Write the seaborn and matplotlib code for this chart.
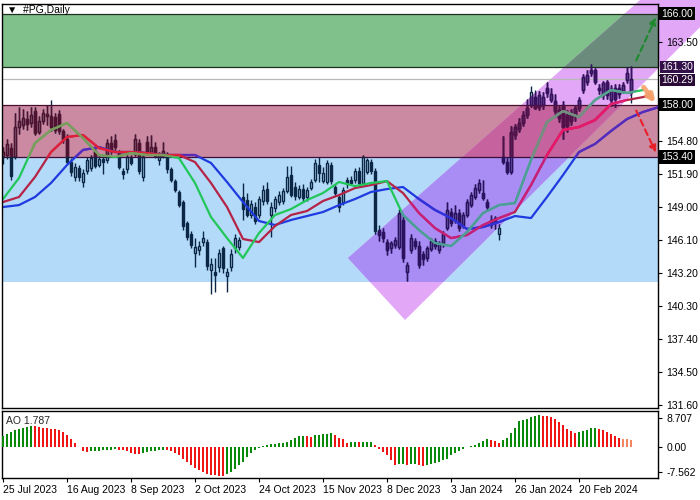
import numpy as np
import matplotlib
matplotlib.use("Agg")
import matplotlib.pyplot as plt
import seaborn as sns
from matplotlib.patches import Rectangle, Polygon
from matplotlib.collections import LineCollection
from matplotlib.transforms import Bbox, TransformedBbox

# ---------------- data ----------------
opens = [153.4, 153.6, 154.2, 153.4, 156.0, 156.2, 156.7, 156.4, 157.4, 155.6,
         156.6, 157.2, 157.0, 156.9, 157.2, 155.7, 155.0, 153.0, 151.6, 152.4,
         151.2, 152.2, 152.4, 153.9, 152.7, 153.2, 153.1, 154.6, 154.9, 153.8,
         152.2, 152.3, 153.3, 153.7, 154.6, 151.6, 154.7, 153.8, 154.3, 153.1,
         153.5, 153.6, 152.3, 151.3, 150.3, 149.4, 147.6, 146.6, 145.0, 145.2,
         145.9, 145.9, 143.5, 143.3, 143.7, 145.4, 142.9, 143.7, 145.4, 145.5,
         149.9, 149.6, 148.3, 149.0, 148.3, 149.5, 150.6, 148.3, 148.9, 149.4,
         149.5, 150.4, 151.8, 150.8, 149.9, 150.6, 149.9, 150.7, 151.4, 152.7,
         151.3, 151.2, 152.7, 150.8, 149.9, 149.4, 151.4, 151.4, 151.4, 152.2,
         151.1, 152.1, 153.0, 152.2, 147.0, 146.8, 145.9, 145.4, 145.7, 145.5,
         147.9, 143.3, 145.2, 146.0, 145.6, 144.9, 144.5, 145.3, 146.0, 145.2,
         145.8, 147.2, 148.6, 147.9, 148.5, 147.4, 148.3, 149.2, 149.9, 150.5,
         150.2, 149.4, 147.9, 148.0, 146.6, 153.4, 153.0, 152.1, 155.3, 155.9,
         156.4, 157.1, 158.0, 158.7, 157.8, 158.0, 159.5, 158.4, 158.3, 157.5,
         158.0, 157.1, 156.6, 157.0, 157.7, 159.3, 160.0, 160.8, 161.0, 159.5,
         158.8, 160.0, 158.4, 159.5, 158.9, 159.2, 160.2, 159.1]
highs = [154.3, 155.0, 154.6, 157.3, 157.8, 157.6, 157.4, 157.8, 157.8, 157.0,
         157.6, 158.0, 158.4, 157.3, 157.5, 155.9, 155.4, 153.3, 152.9, 152.7,
         152.3, 153.4, 153.6, 154.3, 153.5, 153.5, 155.0, 155.2, 155.4, 154.0,
         152.4, 153.6, 153.6, 155.4, 155.0, 153.7, 155.2, 155.3, 154.7, 153.8,
         154.7, 153.8, 152.5, 151.5, 150.5, 149.6, 147.8, 146.9, 146.3, 146.0,
         146.9, 146.2, 144.5, 144.5, 145.3, 145.6, 143.6, 145.3, 146.6, 146.4,
         151.1, 150.2, 149.6, 149.4, 150.0, 150.9, 151.2, 149.4, 150.0, 150.4,
         150.7, 152.6, 152.6, 151.2, 150.9, 151.0, 150.8, 151.5, 153.2, 153.4,
         152.5, 153.1, 153.0, 151.0, 150.1, 150.8, 151.6, 151.7, 152.4, 152.5,
         153.6, 153.3, 153.2, 152.4, 147.4, 147.2, 146.2, 146.0, 146.4, 148.8,
         148.2, 144.2, 146.6, 146.3, 146.0, 145.1, 145.6, 146.3, 146.3, 146.0,
         146.9, 149.4, 148.9, 149.2, 148.8, 148.6, 149.7, 150.3, 151.0, 151.5,
         151.4, 149.7, 148.3, 148.2, 147.5, 155.2, 153.4, 156.1, 156.3, 156.8,
         157.4, 158.5, 159.6, 159.3, 159.2, 159.1, 160.0, 159.5, 158.9, 157.9,
         158.3, 157.5, 157.6, 158.0, 158.7, 160.7, 161.0, 161.6, 161.2, 159.8,
         160.1, 160.2, 159.7, 159.8, 159.8, 160.0, 161.3, 161.4]
lows = [152.8, 153.2, 151.4, 153.2, 155.4, 155.9, 155.8, 156.0, 155.3, 155.4,
        156.3, 156.2, 155.7, 155.5, 155.4, 154.6, 152.8, 151.7, 151.3, 151.3,
        150.8, 151.9, 152.2, 152.4, 152.5, 151.9, 152.9, 153.7, 154.0, 152.3,
        151.5, 152.0, 152.7, 153.5, 151.9, 151.3, 153.6, 153.6, 153.3, 152.7,
        153.3, 152.0, 151.2, 150.3, 149.0, 147.0, 146.1, 145.4, 143.7, 144.8,
        145.6, 143.5, 141.4, 141.5, 143.3, 143.2, 141.5, 143.4, 145.0, 145.2,
        147.9, 148.1, 148.0, 147.5, 148.0, 149.2, 149.3, 146.4, 148.6, 149.2,
        149.3, 150.2, 149.9, 149.6, 149.7, 149.4, 149.5, 150.5, 151.2, 151.2,
        151.1, 151.0, 151.0, 150.0, 148.6, 149.2, 150.7, 150.9, 151.1, 150.9,
        150.9, 151.9, 151.9, 146.6, 146.0, 145.9, 144.8, 145.0, 145.4, 145.3,
        144.2, 142.5, 145.0, 145.3, 143.6, 143.9, 144.3, 145.1, 145.3, 145.0,
        145.5, 147.0, 147.3, 147.6, 146.9, 147.2, 148.1, 149.0, 149.7, 150.2,
        149.6, 148.7, 147.2, 147.1, 146.1, 152.8, 151.9, 151.9, 155.0, 155.6,
        156.1, 156.8, 157.8, 157.6, 157.5, 157.6, 158.7, 158.2, 157.2, 156.5,
        155.0, 155.6, 156.2, 156.6, 157.4, 159.0, 159.7, 160.5, 159.8, 158.9,
        158.5, 158.5, 157.9, 157.8, 158.6, 159.0, 159.9, 158.1]
closes = [153.8, 154.5, 151.7, 156.0, 156.6, 156.8, 156.3, 157.1, 155.5, 156.6,
          157.3, 157.0, 156.0, 155.8, 155.7, 155.0, 153.0, 152.1, 152.5, 151.6,
          152.0, 153.1, 153.3, 152.6, 153.2, 153.0, 154.6, 154.0, 154.3, 152.5,
          151.9, 153.4, 152.9, 155.0, 152.2, 153.4, 153.8, 154.3, 153.5, 153.6,
          153.9, 152.3, 151.4, 150.5, 149.2, 147.3, 146.4, 145.7, 145.5, 145.6,
          146.3, 143.8, 144.0, 143.0, 145.0, 143.6, 143.3, 144.9, 146.3, 146.1,
          148.8, 148.3, 149.3, 147.8, 149.7, 150.5, 149.5, 149.0, 149.7, 150.1,
          150.4, 151.6, 150.1, 150.0, 150.6, 149.8, 150.5, 151.2, 152.9, 152.0,
          152.0, 152.9, 151.3, 150.2, 149.0, 150.5, 151.0, 151.1, 152.2, 151.1,
          153.4, 153.1, 152.2, 146.9, 146.5, 146.3, 145.2, 145.8, 146.1, 148.5,
          144.5, 143.9, 146.3, 145.6, 143.9, 144.4, 145.4, 146.0, 145.6, 145.8,
          146.6, 148.7, 147.6, 148.5, 147.2, 148.3, 149.4, 150.1, 150.7, 151.1,
          149.8, 149.0, 147.4, 147.6, 147.2, 153.0, 152.1, 155.6, 156.0, 156.4,
          157.1, 157.7, 159.1, 157.7, 158.8, 158.7, 159.0, 158.9, 157.4, 156.8,
          156.0, 156.1, 157.3, 157.7, 158.4, 160.4, 160.6, 161.0, 160.0, 159.3,
          159.9, 158.8, 159.4, 158.5, 159.5, 159.7, 160.8, 160.29]

ao_values = [3.2, 4.0, 4.5, 5.0, 5.3, 5.7, 6.0, 6.4, 6.2, 6.0,
             5.7, 5.6, 5.5, 5.3, 5.0, 4.5, 3.5, 2.5, 1.2, 0.05,
             -1.2, -1.5, -1.3, -1.2, -1.1, -1.0, -0.9, -0.8, -0.6, -0.8,
             -1.0, -1.3, -1.8, -2.0, -2.05, -1.7, -1.5, -1.3, -1.2, -1.0,
             -0.8, -1.0, -1.2, -1.7, -2.5, -3.5, -4.5, -5.5, -6.3, -7.0,
             -7.5, -8.0, -8.3, -8.5, -8.6, -8.65, -8.2, -7.5, -6.5, -5.5,
             -4.5, -3.0, -1.8, -1.0, -0.3, 0.2, 0.7, 0.9, 1.0, 1.1,
             1.3, 1.5, 2.0, 2.7, 3.2, 3.3, 3.2, 3.1, 3.6, 3.7,
             3.8, 4.0, 4.3, 3.5, 2.8, 2.5, 1.3, 1.4, 1.5, 1.4,
             1.5, 1.6, 1.65, 0.6, -0.5, -1.5, -2.5, -4.0, -5.5, -5.2,
             -5.0, -5.3, -5.1, -5.0, -5.3, -5.6, -5.3, -5.0, -4.8, -4.5,
             -4.0, -3.5, -2.5, -1.8, -1.2, -0.5, 0.0, 0.3, 0.7, 1.2,
             1.8, 2.3, 2.2, 1.8, 1.2, 2.2, 2.8, 4.2, 5.8, 7.8,
             8.0, 8.5, 9.0, 9.4, 9.5, 9.45, 9.4, 9.0, 8.3, 7.5,
             6.5, 5.5, 4.8, 4.3, 4.4, 4.7, 5.2, 5.6, 5.8, 5.5,
             5.0, 4.5, 3.8, 3.2, 2.8, 2.5, 2.3, 2.0]

# Alligator lines (lips / teeth / jaw), read at every 4th bar
lips_idx = list(range(0, 161, 4))
lips_vals = [149.70, 151.55, 154.62, 155.77, 156.38, 155.06, 153.57, 153.39, 153.74, 153.57,
             153.57, 153.30, 151.11, 148.12, 146.27, 144.52, 146.71, 148.30, 148.82, 149.61,
             150.23, 151.20, 150.84, 151.11, 151.28, 148.30, 146.98, 145.84, 145.57, 146.80,
             148.47, 149.17, 149.35, 153.13, 156.47, 157.43, 156.91, 158.40, 159.28, 159.02,
             159.28]
teeth_idx = list(range(0, 161, 4)) + [162]
teeth_vals = [149.44, 149.88, 151.64, 153.83, 155.15, 155.33, 154.18, 153.83, 153.83, 153.74,
              153.57, 153.57, 152.95, 151.11, 149.00, 146.19, 145.92, 147.33, 148.30, 148.65,
              149.53, 150.05, 150.67, 150.93, 151.28, 150.23, 148.47, 147.15, 146.27, 146.54,
              147.42, 148.03, 148.56, 150.93, 153.57, 155.77, 156.03, 156.64, 158.05, 158.40,
              158.66, 158.84]
jaw_idx = list(range(0, 165, 4))
jaw_vals = [149.00, 149.17, 149.88, 151.11, 152.69, 154.01, 154.27, 153.83, 153.83, 153.74,
            153.57, 153.57, 153.57, 152.87, 151.20, 149.44, 147.77, 147.42, 147.86, 148.21,
            148.56, 149.17, 149.70, 150.32, 150.58, 150.76, 149.70, 148.74, 148.03, 147.07,
            147.24, 147.68, 148.21, 148.03, 149.88, 151.81, 153.83, 154.54, 155.68, 156.73,
            157.35, 157.79]

date_positions = [0, 16, 32, 48, 64, 80, 96, 112, 128, 144]
date_labels = ["25 Jul 2023", "16 Aug 2023", "8 Sep 2023", "2 Oct 2023", "24 Oct 2023",
               "15 Nov 2023", "8 Dec 2023", "3 Jan 2024", "26 Jan 2024", "20 Feb 2024"]

price_ticks = [131.60, 134.50, 137.40, 140.30, 143.20, 146.10, 149.00, 151.90,
               154.80, 157.70, 160.60, 163.50, 166.40]
hidden_ticks = [157.70, 160.60, 166.40]   # covered by the level boxes in the reference
ao_ticks = [8.707, 0.0, -7.562]
ao_tick_labels = ["8.707", "0.00", "-7.562"]

green_zone = (161.30, 166.00)
red_zone = (153.40, 158.00)
blue_zone = (142.40, 153.40)
white_band = (158.00, 161.30)
bid_price = 160.29
level_boxes = [166.00, 158.00, 153.40]

channel_corners = [(86.25, 144.52), (100.5, 139.07), (189.25, 170.04), (189.25, 176.50)]
arrow_up = [(158.0, 161.65), (163.5, 165.87)]
arrow_down = [(158.0, 157.70), (163.5, 153.57)]
arrow_orange = [(159.75, 159.72), (163.5, 157.96)]

# ---------------- figure ----------------
sns.set_theme(style="white")
plt.rcParams["font.family"] = ["Liberation Sans", "DejaVu Sans"]

fig = plt.figure(figsize=(7, 5), dpi=100)
ax = fig.add_axes([2 / 700, 1 - 408 / 500, 656 / 700, 404 / 500])
ax2 = fig.add_axes([2 / 700, 1 - 478 / 500, 656 / 700, 67 / 500])

XL = (-0.25, 163.75)
ax.set_xlim(*XL)
ax.set_ylim(131.34, 166.84)


def band_box(lo, hi):
    return TransformedBbox(Bbox([[XL[0], lo], [XL[1], hi]]), ax.transData)


def chan_path():
    return Polygon(channel_corners, closed=True, transform=ax.transData)


def apply_clip(arts, use_chan, band):
    for a in arts:
        if use_chan:
            a.set_clip_path(chan_path())
        if band is not None:
            a.set_clip_box(band_box(*band))


# regions: (use channel clip, band)
REGIONS = {
    "base": (False, None),
    "red": (False, red_zone),
    "chan": (True, None),
    "chan_red": (True, red_zone),
    "chan_white": (True, white_band),
}

# zones
ax.axhspan(*green_zone, color="#80c08b", zorder=1, lw=0)
ax.axhspan(*red_zone, color="#cb8aa2", zorder=1, lw=0)
ax.axhspan(*blue_zone, color="#b3daf8", zorder=1, lw=0)

# channel with blended colours per zone
base = Polygon(channel_corners, closed=True, facecolor="#e2a8f7", edgecolor="none",
               zorder=2, clip_on=False)
ax.add_patch(base)
for zone, col in [(blue_zone, "#a98df4"), (red_zone, "#c6639f"), (green_zone, "#6b8b7c")]:
    p = Polygon(channel_corners, closed=True, facecolor=col, edgecolor="none", zorder=2.1)
    ax.add_patch(p)
    p.set_clip_box(band_box(*zone))

# level lines
for y, col in [(166.0, "#20301f"), (161.3, "#20301f"), (158.0, "#4a0f2c"), (153.4, "#3c0f3a")]:
    ax.axhline(y, color=col, lw=0.9, zorder=3)
ax.axhline(bid_price, color="#b8b8b8", lw=0.9, zorder=3)

# candles
o = np.array(opens); c = np.array(closes); h = np.array(highs); l = np.array(lows)
idx = np.arange(len(c))
bhi = np.maximum(o, c); blo = np.minimum(o, c)
hgt = np.maximum(bhi - blo, 0.07)
up = c >= o


def draw_candles(color, region, z):
    segs = [[(i, bhi[i]), (i, h[i])] for i in idx] + [[(i, l[i]), (i, blo[i])] for i in idx]
    lc = LineCollection(segs, colors=color, linewidths=1.0, zorder=z)
    ax.add_collection(lc)
    arts = [lc]
    b1 = ax.bar(idx[up], hgt[up], bottom=blo[up], width=0.6, facecolor="none",
                edgecolor=color, linewidth=1.0, zorder=z)
    b2 = ax.bar(idx[~up], hgt[~up], bottom=blo[~up], width=0.6, facecolor=color,
                edgecolor=color, linewidth=1.0, zorder=z)
    arts += list(b1.patches) + list(b2.patches)
    if region != "base":
        apply_clip(arts, *REGIONS[region])


candle_cols = {"base": "#0c2746", "red": "#50122f", "chan": "#2e1060",
               "chan_red": "#561048", "chan_white": "#3a1060"}
for k, (name, col) in enumerate(candle_cols.items()):
    draw_candles(col, name, 4 + 0.05 * k)

# alligator lines, tinted per region like the reference
line_specs = [
    (jaw_idx, jaw_vals, {"base": "#1f3be0", "red": "#5a2ab8", "chan": "#3430d8",
                         "chan_red": "#6a2aa8", "chan_white": "#5030c0"}, 5.0),
    (teeth_idx, teeth_vals, {"base": "#b52346", "red": "#e0203a", "chan": "#c8207a",
                             "chan_red": "#e8186a", "chan_white": "#e02070"}, 5.3),
    (lips_idx, lips_vals, {"base": "#22c75a", "red": "#7f9a5c", "chan": "#4f9a9a",
                           "chan_red": "#7a8a80", "chan_white": "#5aa090"}, 5.6),
]
for xs, ys, cols, z in line_specs:
    for k, (name, col) in enumerate(cols.items()):
        before = len(ax.lines)
        sns.lineplot(x=xs, y=ys, ax=ax, color=col, lw=1.6, zorder=z + 0.05 * k, sort=False)
        new = ax.lines[before:]
        if name != "base":
            apply_clip(new, *REGIONS[name])

# arrows
ax.annotate("", xy=arrow_up[1], xytext=arrow_up[0],
            arrowprops=dict(arrowstyle="-|>", color="#1e8a2e", lw=1.5, ls=(0, (3, 2)),
                            mutation_scale=10), zorder=7, annotation_clip=False)
ax.annotate("", xy=arrow_down[1], xytext=arrow_down[0],
            arrowprops=dict(arrowstyle="-|>", color="#e8202a", lw=1.5, ls=(0, (3, 2)),
                            mutation_scale=10), zorder=7, annotation_clip=False)
ax.annotate("", xy=arrow_orange[1], xytext=arrow_orange[0],
            arrowprops=dict(arrowstyle="-|>", color="#f5a06a", lw=3.5, alpha=0.9,
                            mutation_scale=10), zorder=7, annotation_clip=False)

# axes styling main
ax.yaxis.tick_right()
ax.set_yticks(price_ticks)
ax.set_yticklabels(["" if t in hidden_ticks else f"{t:.2f}" for t in price_ticks])
ax.tick_params(axis="y", direction="out", length=3, width=0.8, pad=3, labelsize=7.5,
               colors="black", right=True, left=False)
ax.yaxis.set_zorder(9)   # keep price labels above the channel that spills past the axis
ax.set_xticks([])
for s in ax.spines.values():
    s.set_color("black"); s.set_linewidth(1.0); s.set_zorder(8)
ax.grid(False)
ax.set_facecolor("white")

box_kw = dict(transform=ax.get_yaxis_transform(), fontsize=7.5, color="white",
              va="center", ha="left", zorder=10)
for v in level_boxes:
    ax.text(1.005, v, f"{v:.2f}", bbox=dict(boxstyle="square,pad=0.18", fc="black", ec="none"),
            **box_kw)
ax.text(1.005, 161.30, "161.30", bbox=dict(boxstyle="square,pad=0.12", fc="#34104a", ec="none"),
        **box_kw)
ax.text(1.005, bid_price - 0.12, f"{bid_price:.2f}",
        bbox=dict(boxstyle="square,pad=0.12", fc="#2a0a36", ec="none"), **box_kw)

ax.text(0.008, 0.997, "\u25bc  #PG,Daily", transform=ax.transAxes, fontsize=7.5,
        va="top", ha="left", color="black", zorder=9)

# ---------------- AO panel ----------------
ao = np.array(ao_values)
ao_col = np.where(np.diff(np.r_[ao[0] - 1, ao]) >= 0, "#0a8a0a", "#ee1515").astype(object)
ao_col[-3:] = "#f3865e"
ax2.bar(np.arange(len(ao)), ao, width=0.72, color=list(ao_col), lw=0, zorder=3)
ax2.set_xlim(*XL)
ax2.set_ylim(-9.3, 10.8)
ax2.yaxis.tick_right()
ax2.set_yticks(ao_ticks)
ax2.set_yticklabels(ao_tick_labels)
ax2.tick_params(axis="y", direction="out", length=3, width=0.8, pad=3, labelsize=7.5,
                colors="black", right=True, left=False)
ax2.set_xticks(date_positions)
ax2.set_xticklabels(date_labels, ha="left")
ax2.tick_params(axis="x", direction="out", length=3, width=0.8, pad=2, labelsize=7.5,
                colors="black", bottom=True)
for s in ax2.spines.values():
    s.set_color("black"); s.set_linewidth(1.0)
ax2.grid(False)
ax2.set_facecolor("white")
ax2.text(0.006, 0.93, "AO 1.787", transform=ax2.transAxes, fontsize=7.5, va="top", ha="left")

fig.savefig("out.png", dpi=100)
